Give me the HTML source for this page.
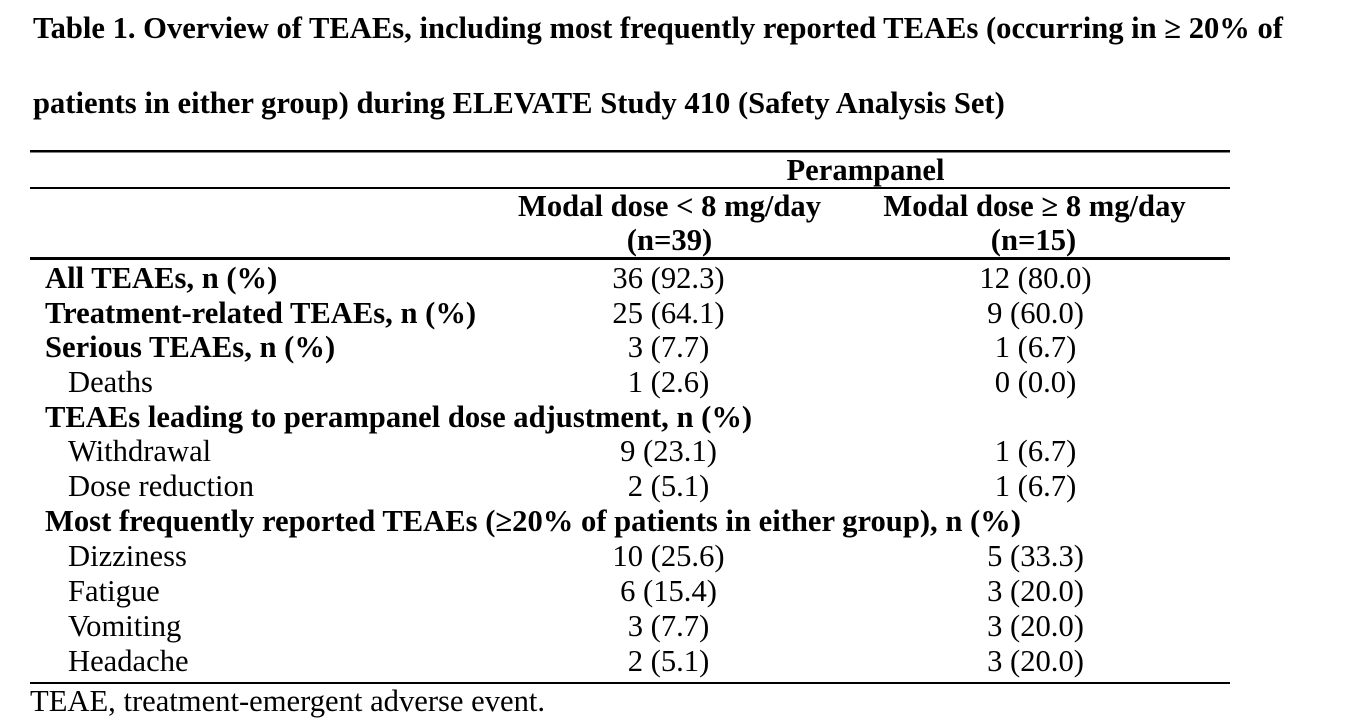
<!DOCTYPE html>
<html>
<head>
<meta charset="utf-8">
<style>
  html, body { margin: 0; padding: 0; background: #fff; }
  svg { display: block; }
  text { font-family: "Liberation Serif", "Times New Roman", serif; font-size: 30.6px; fill: #000; }
  .b { font-weight: bold; }
  .c { text-anchor: middle; }
</style>
</head>
<body>
<svg width="1357" height="728" viewBox="0 0 1357 728" xmlns="http://www.w3.org/2000/svg">
  <rect x="0" y="0" width="1357" height="728" fill="#fff"/>

  <!-- Title -->
  <text class="b" x="33" y="38" textLength="1250" lengthAdjust="spacingAndGlyphs">Table 1. Overview of TEAEs, including most frequently reported TEAEs (occurring in ≥ 20% of</text>
  <text class="b" x="33" y="113">patients in either group) during ELEVATE Study 410 (Safety Analysis Set)</text>

  <!-- Rules -->
  <rect x="30" y="150" width="1200" height="2.5" fill="#000"/>
  <rect x="30" y="187" width="1200" height="2" fill="#000"/>
  <rect x="30" y="257" width="1200" height="3" fill="#000"/>
  <rect x="30" y="682" width="1200" height="2" fill="#000"/>

  <!-- Header -->
  <text class="b c" x="865.5" y="180">Perampanel</text>
  <text class="b c" x="669.5" y="216">Modal dose &lt; 8 mg/day</text>
  <text class="b c" x="1034.5" y="216">Modal dose ≥ 8 mg/day</text>
  <text class="b c" x="669.5" y="250">(n=39)</text>
  <text class="b c" x="1033.5" y="250">(n=15)</text>

  <!-- Rows -->
  <text class="b" x="45" y="288">All TEAEs, n (%)</text>
  <text class="c" x="668.5" y="288">36 (92.3)</text>
  <text class="c" x="1035.5" y="288">12 (80.0)</text>

  <text class="b" x="45" y="323">Treatment-related TEAEs, n (%)</text>
  <text class="c" x="668.5" y="323">25 (64.1)</text>
  <text class="c" x="1035.5" y="323">9 (60.0)</text>

  <text class="b" x="45" y="357">Serious TEAEs, n (%)</text>
  <text class="c" x="668.5" y="357">3 (7.7)</text>
  <text class="c" x="1035.5" y="357">1 (6.7)</text>

  <text x="68" y="392">Deaths</text>
  <text class="c" x="668.5" y="392">1 (2.6)</text>
  <text class="c" x="1035.5" y="392">0 (0.0)</text>

  <text class="b" x="45" y="427">TEAEs leading to perampanel dose adjustment, n (%)</text>

  <text x="68" y="461">Withdrawal</text>
  <text class="c" x="668.5" y="461">9 (23.1)</text>
  <text class="c" x="1035.5" y="461">1 (6.7)</text>

  <text x="68" y="496">Dose reduction</text>
  <text class="c" x="668.5" y="496">2 (5.1)</text>
  <text class="c" x="1035.5" y="496">1 (6.7)</text>

  <text class="b" x="45" y="531">Most frequently reported TEAEs (≥20% of patients in either group), n (%)</text>

  <text x="68" y="566">Dizziness</text>
  <text class="c" x="668.5" y="566">10 (25.6)</text>
  <text class="c" x="1035.5" y="566">5 (33.3)</text>

  <text x="68" y="601">Fatigue</text>
  <text class="c" x="668.5" y="601">6 (15.4)</text>
  <text class="c" x="1035.5" y="601">3 (20.0)</text>

  <text x="68" y="636">Vomiting</text>
  <text class="c" x="668.5" y="636">3 (7.7)</text>
  <text class="c" x="1035.5" y="636">3 (20.0)</text>

  <text x="68" y="671">Headache</text>
  <text class="c" x="668.5" y="671">2 (5.1)</text>
  <text class="c" x="1035.5" y="671">3 (20.0)</text>

  <!-- Footnote -->
  <text x="30" y="711">TEAE, treatment-emergent adverse event.</text>
</svg>
</body>
</html>
